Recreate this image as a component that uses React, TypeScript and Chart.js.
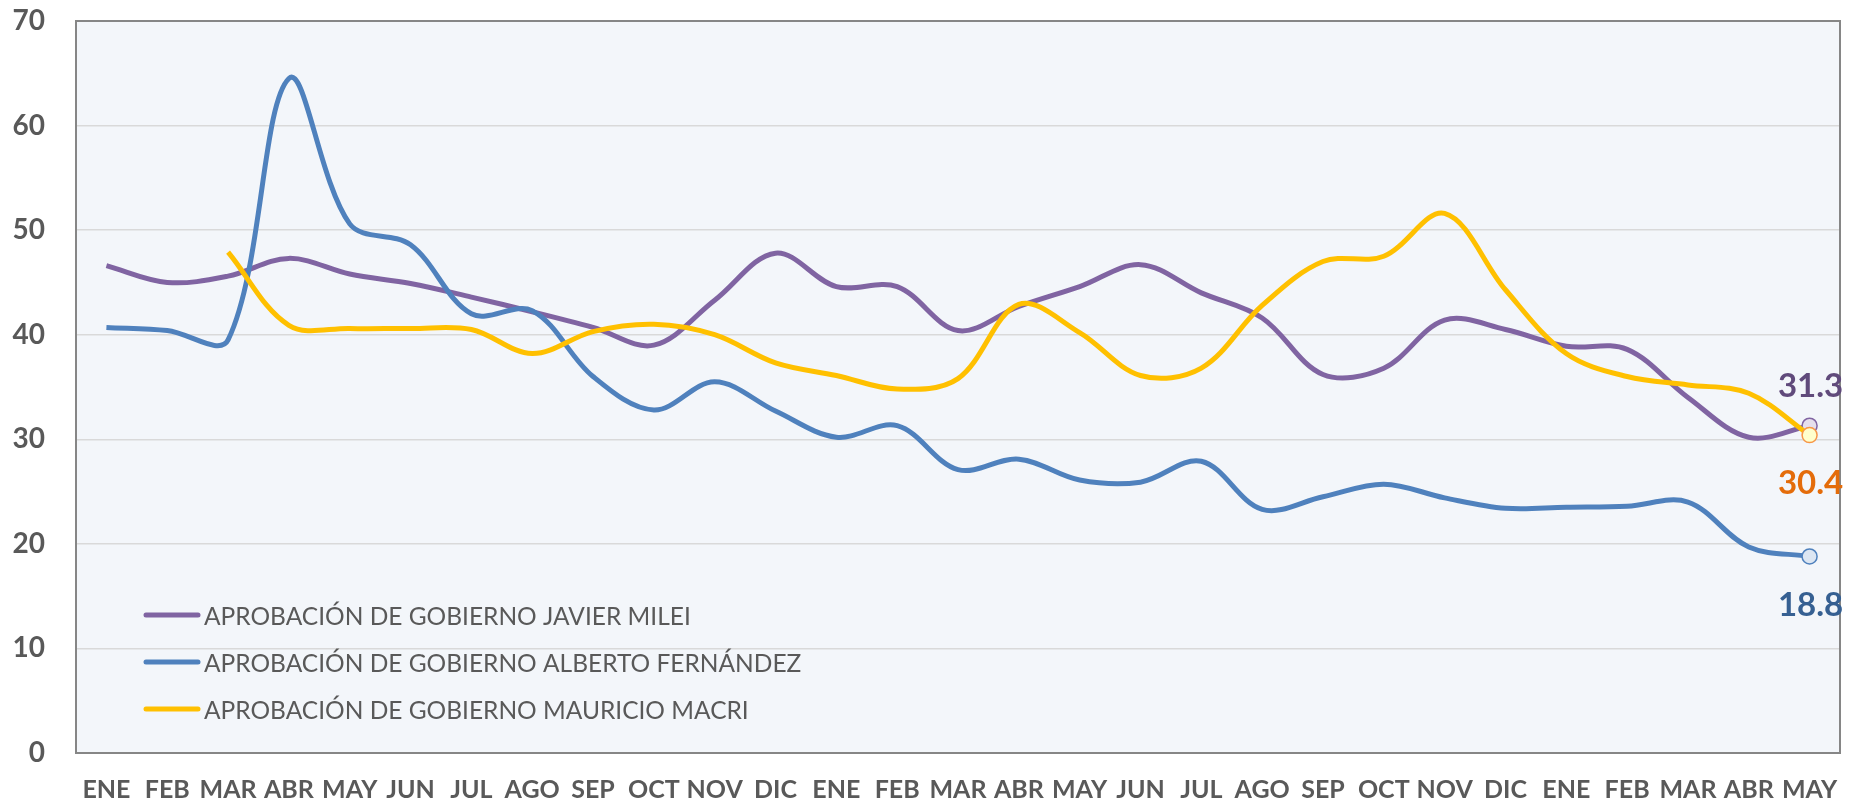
import React, { useEffect, useRef } from "react";
import { Chart, registerables } from "chart.js";

Chart.register(...registerables);

// ---- Data ----
const months = [
  "ENE", "FEB", "MAR", "ABR", "MAY", "JUN", "JUL", "AGO", "SEP", "OCT", "NOV", "DIC",
  "ENE", "FEB", "MAR", "ABR", "MAY", "JUN", "JUL", "AGO", "SEP", "OCT", "NOV", "DIC",
  "ENE", "FEB", "MAR", "ABR", "MAY",
];

const mileiValues = [
  46.6, 45.0, 45.6, 47.3, 45.8, 44.9, 43.6, 42.2, 40.7, 39.0, 43.3, 47.8,
  44.6, 44.6, 40.4, 42.7, 44.6, 46.7, 44.0, 41.6, 36.2, 36.8, 41.4, 40.5,
  38.9, 38.6, 34.0, 30.2, 31.3,
];

const fernandezValues = [
  40.7, 40.4, 39.5, 64.5, 50.6, 48.6, 42.0, 42.3, 36.0, 32.8, 35.5, 32.7,
  30.2, 31.3, 27.1, 28.1, 26.1, 25.9, 27.9, 23.3, 24.5, 25.7, 24.4, 23.4,
  23.5, 23.6, 24.0, 19.7, 18.8,
];

const macriValues = [
  null, null, 47.9, 40.9, 40.6, 40.6, 40.5, 38.2, 40.3, 41.0, 40.0, 37.3,
  36.1, 34.8, 35.8, 42.9, 40.2, 36.1, 36.8, 42.8, 47.0, 47.5, 51.6, 44.3,
  38.2, 36.0, 35.2, 34.4, 30.4,
];

const seriesNames = [
  "APROBACIÓN DE GOBIERNO JAVIER MILEI",
  "APROBACIÓN DE GOBIERNO ALBERTO FERNÁNDEZ",
  "APROBACIÓN DE GOBIERNO MAURICIO MACRI",
];

const endLabels = ["31.3", "18.8", "30.4"];

const yMin = 0;
const yMax = 70;
const yStep = 10;

// ---- Styles ----
const FONT = "Lato, 'Open Sans', sans-serif";
const TEXT_GRAY = "#595959";
const lineColors = ["#8064A2", "#4F81BD", "#FFC000"];
const markerFills = ["#E5DFEC", "#DCE6F2", "#FFFFCC"];
const markerBorders = ["#8064A2", "#4F81BD", "#F79646"];
const labelColors = ["#604A7B", "#366092", "#E46C0A"];
const labelOffsets = [-39, 49, 48];

const framePlugin = {
  id: "frame",
  beforeDraw(chart: any) {
    const { ctx, chartArea: a } = chart;
    ctx.save();
    ctx.fillStyle = "#F3F6FA";
    ctx.fillRect(a.left, a.top, a.right - a.left, a.bottom - a.top);
    ctx.restore();
  },
  beforeDatasetsDraw(chart: any) {
    const { ctx, chartArea: a } = chart;
    ctx.save();
    ctx.strokeStyle = "#868686";
    ctx.lineWidth = 2;
    ctx.strokeRect(a.left, a.top, a.right - a.left, a.bottom - a.top);
    ctx.restore();
  },
};

const legendPlugin = {
  id: "insideLegend",
  afterDraw(chart: any) {
    const { ctx, chartArea: a } = chart;
    ctx.save();
    ctx.font = `400 24.5px ${FONT}`;
    ctx.textBaseline = "middle";
    ctx.textAlign = "left";
    seriesNames.forEach((name, i) => {
      const y = a.bottom - 138 + 47 * i;
      ctx.strokeStyle = lineColors[i];
      ctx.lineWidth = 5;
      ctx.lineCap = "round";
      ctx.beginPath();
      ctx.moveTo(a.left + 70, y);
      ctx.lineTo(a.left + 122, y);
      ctx.stroke();
      ctx.fillStyle = TEXT_GRAY;
      ctx.fillText(name, a.left + 128, y + 2);
    });
    ctx.restore();
  },
};

const endLabelPlugin = {
  id: "endLabels",
  afterDatasetsDraw(chart: any) {
    const { ctx } = chart;
    ctx.save();
    ctx.font = `700 33px ${FONT}`;
    ctx.textAlign = "center";
    ctx.textBaseline = "middle";
    chart.data.datasets.forEach((ds: any, i: number) => {
      const meta = chart.getDatasetMeta(i);
      const el = meta.data[meta.data.length - 1];
      if (!el) return;
      ctx.fillStyle = labelColors[i];
      ctx.fillText(endLabels[i], el.x + 1, el.y + labelOffsets[i]);
    });
    ctx.restore();
  },
};

export default function App() {
  const canvasRef = useRef<HTMLCanvasElement | null>(null);

  useEffect(() => {
    document.body.style.margin = "0";
    const canvas = canvasRef.current;
    if (!canvas) return;
    const last = months.length - 1;
    const values = [mileiValues, fernandezValues, macriValues];
    const orders = [2, 1, 0];

    const chart = new Chart(canvas, {
      type: "line",
      data: {
        labels: months,
        datasets: values.map((v, i) => ({
          label: seriesNames[i],
          data: v,
          borderColor: lineColors[i],
          backgroundColor: lineColors[i],
          borderWidth: 5,
          tension: 0.35,
          fill: false,
          order: orders[i],
          pointRadius: (c: any) => (c.dataIndex === last ? 7.5 : 0),
          pointHoverRadius: (c: any) => (c.dataIndex === last ? 7.5 : 0),
          pointBackgroundColor: markerFills[i],
          pointBorderColor: markerBorders[i],
          pointBorderWidth: 1.5,
        })),
      },
      options: {
        responsive: false,
        animation: false,
        devicePixelRatio: 1,
        layout: { padding: { left: 0, top: 21, right: 9, bottom: 0 } },
        plugins: {
          legend: { display: false },
          tooltip: { enabled: false },
        },
        scales: {
          x: {
            type: "category",
            offset: true,
            grid: { display: false, drawTicks: false },
            border: { display: false },
            ticks: {
              autoSkip: false,
              maxRotation: 0,
              minRotation: 0,
              padding: 22,
              color: TEXT_GRAY,
              font: { family: FONT, size: 25, weight: "bold" },
            },
            afterFit: (s: any) => {
              s.height = 48;
              s.paddingLeft = 0;
              s.paddingRight = 0;
            },
          },
          y: {
            min: yMin,
            max: yMax,
            grid: { color: "#D9D9D9", lineWidth: 1.5, drawTicks: false },
            border: { display: false },
            ticks: {
              stepSize: yStep,
              padding: 31,
              color: TEXT_GRAY,
              font: { family: FONT, size: 28, weight: "bold" },
            },
            afterFit: (s: any) => {
              s.width = 76;
              s.paddingTop = 0;
              s.paddingBottom = 0;
            },
          },
        },
      },
      plugins: [framePlugin, legendPlugin, endLabelPlugin],
    } as any);

    let alive = true;
    if ((document as any).fonts && (document as any).fonts.ready) {
      (document as any).fonts.ready.then(() => {
        if (alive) chart.update();
      });
    }

    return () => {
      alive = false;
      chart.destroy();
    };
  }, []);

  return (
    <div style={{ width: 1849, height: 801, background: "#ffffff" }}>
      <canvas ref={canvasRef} width={1849} height={801} style={{ display: "block" }} />
    </div>
  );
}
